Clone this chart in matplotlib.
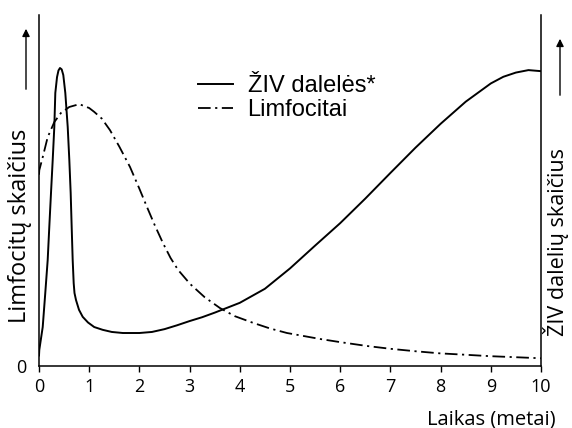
import matplotlib
matplotlib.use('Agg')
import matplotlib.pyplot as plt

# values (time in years, height in arbitrary units 0..100)
hiv_x = [0.0, 0.006, 0.074, 0.125, 0.173, 0.205, 0.239, 0.273, 0.305, 0.325,
         0.359, 0.388, 0.418, 0.452, 0.484, 0.524, 0.572, 0.604, 0.631, 0.651,
         0.671, 0.691, 0.707, 0.737, 0.797, 0.871, 0.976, 1.10, 1.27, 1.45,
         1.67, 2.0, 2.25, 2.5, 2.75, 3.0, 3.25, 3.5, 3.75, 4.0, 4.5, 5.0, 5.5,
         6.0, 6.5, 7.0, 7.5, 8.0, 8.5, 9.0, 9.25, 9.5, 9.75, 10.0]
hiv_y = [3.0, 4.6, 11.1, 20.8, 30.2, 39.6, 49.3, 58.7, 68.1, 77.8,
         82.3, 84.2, 84.9, 84.5, 82.9, 77.8, 68.1, 58.7, 49.3, 39.6,
         30.2, 23.6, 20.8, 18.8, 16.0, 14.0, 12.4, 11.1, 10.3, 9.7,
         9.4, 9.4, 9.7, 10.5, 11.6, 12.8, 13.9, 15.2, 16.6, 18.0, 22.0, 27.8, 34.3,
         40.7, 47.7, 55.0, 62.2, 69.0, 75.3, 80.5, 82.4, 83.6, 84.3, 84.0]

lym_x = [0.0, 0.006, 0.074, 0.173, 0.305, 0.438, 0.604, 0.803, 1.0, 1.10,
         1.25, 1.414, 1.6, 1.813, 2.0, 2.151, 2.3, 2.47, 2.62, 2.769, 3.008,
         3.3, 3.606, 3.9, 4.263, 4.6, 4.94, 5.598, 6.0, 6.534, 7.0, 7.5,
         7.988, 8.5, 8.984, 9.5, 10.0]
lym_y = [54.5, 55.8, 59.5, 65.2, 69.5, 72.1, 73.8, 74.6, 73.5, 72.4,
         70.5, 67.2, 62.5, 56.7, 50.5, 45.3, 40.3, 35.0, 30.8, 27.4, 23.4,
         19.6, 16.5, 14.2, 12.3, 10.7, 9.4, 7.7, 6.8, 5.7, 4.9, 4.2,
         3.6, 3.2, 2.8, 2.5, 2.2]

xticks = list(range(0, 11))

W, H = 572, 428
fig = plt.figure(figsize=(W / 100, H / 100), dpi=100)
ax = fig.add_axes([39 / W, 1 - 366 / H, (541 - 39) / W, (366 - 15) / H])

ax.plot(hiv_x, hiv_y, color='black', lw=1.4, solid_joinstyle='round',
        label='ŽIV dalelės*')
ax.plot(lym_x, lym_y, color='black', lw=1.3, dashes=(7, 2.5, 1.2, 2.5),
        label='Limfocitai')

ax.set_xlim(0, 10)
ax.set_ylim(0, 100)
ax.spines['top'].set_visible(False)
for s in ['left', 'right', 'bottom']:
    ax.spines[s].set_linewidth(1.1)

ax.set_xticks(xticks)
ax.set_xticklabels([str(t) for t in xticks], family='Open Sans', fontsize=13)
ax.tick_params(axis='x', direction='out', length=4.5, width=1, pad=4)
ax.set_yticks([0])
ax.set_yticklabels(['0'], family='Open Sans', fontsize=13)
ax.tick_params(axis='y', length=0, pad=9)

ax.legend(loc='upper left', bbox_to_anchor=(198 / W, 1 - 75 / H),
          bbox_transform=fig.transFigure, frameon=False, borderpad=0,
          borderaxespad=0, handlelength=1.5, handletextpad=0.6,
          labelspacing=0.1, prop={'family': 'Liberation Sans', 'size': 17})

fig.text(491 / W, 1 - 419 / H, 'Laikas (metai)', family='Open Sans',
         fontsize=14.5, ha='center', va='center')
fig.text(20 / W, 1 - 226 / H, 'Limfocitų skaičius', family='Open Sans',
         fontsize=17, rotation=90, ha='center', va='center')
fig.text(556 / W, 1 - 242 / H, 'ŽIV dalelių skaičius', family='Open Sans',
         fontsize=15.5, rotation=90, ha='center', va='center')

arrow = dict(arrowstyle='-|>', color='black', lw=1, mutation_scale=11)
ax.annotate('', xy=(26, H - 26), xytext=(26, H - 92),
            xycoords='figure pixels', textcoords='figure pixels', arrowprops=arrow)
ax.annotate('', xy=(560, H - 36), xytext=(560, H - 98),
            xycoords='figure pixels', textcoords='figure pixels', arrowprops=arrow)

fig.savefig('out.png', dpi=100)
